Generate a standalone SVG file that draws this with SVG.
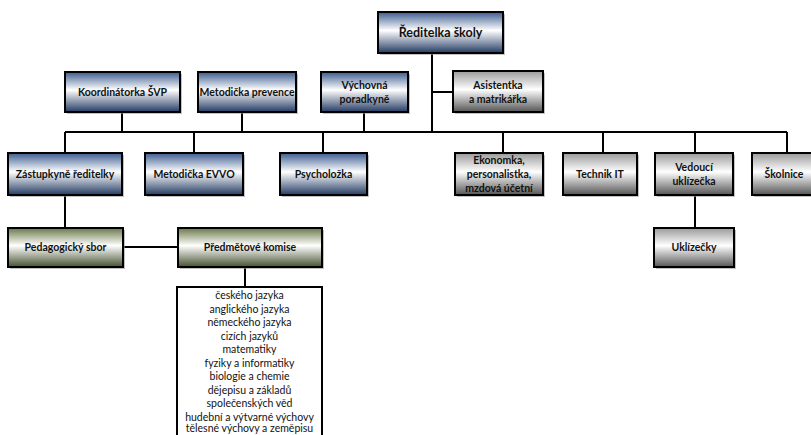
<svg xmlns="http://www.w3.org/2000/svg" width="811" height="435" viewBox="0 0 811 435">
<defs>
<linearGradient id="gBlue" x1="0" y1="0" x2="0" y2="1">
<stop offset="0" stop-color="#3d5c8f"/>
<stop offset="0.45" stop-color="#ffffff"/>
<stop offset="1" stop-color="#243b63"/>
</linearGradient>
<linearGradient id="gGray" x1="0" y1="0" x2="0" y2="1">
<stop offset="0" stop-color="#9a9a9a"/>
<stop offset="0.45" stop-color="#ffffff"/>
<stop offset="1" stop-color="#555555"/>
</linearGradient>
<linearGradient id="gGreen" x1="0" y1="0" x2="0" y2="1">
<stop offset="0" stop-color="#6a7848"/>
<stop offset="0.45" stop-color="#ffffff"/>
<stop offset="1" stop-color="#465230"/>
</linearGradient>
</defs>
<style>
.b{stroke:#000;stroke-width:2}
.blue{fill:url(#gBlue)}
.gray{fill:url(#gGray)}
.green{fill:url(#gGreen)}
.sh{fill:#9a9a9a;opacity:0.6}
text{font-family:Lato,"Open Sans","Liberation Sans",sans-serif;font-weight:bold;font-size:10.5px;fill:#111;text-anchor:middle}
.t{font-size:12.5px}
.li{font-weight:normal;font-size:10.5px}
.ln{stroke:#000;stroke-width:2;fill:none}
</style>
<g id="connectors">
<path class="ln" d="M432 53V132M432 92H453M65 132H787"/>
<path class="ln" d="M122 112V132M242 112V132M364 112V132"/>
<path class="ln" d="M65 132V153M194 132V153M323 132V153M503 132V153M603 132V153M695 132V153M787 132V153"/>
<path class="ln" d="M65 195V228M695 195V228M123 247H178M245 267V287"/>
</g>
<g id="n-reditelka"><rect class="sh" x="380" y="14" width="125" height="41"/><rect class="b blue" x="378" y="12" width="125" height="41"/><text class="t" x="440.5" y="37">Ředitelka školy</text></g>
<g id="n-koordinatorka"><rect class="sh" x="67" y="74" width="115" height="40"/><rect class="b blue" x="65" y="72" width="115" height="40"/><text x="122.5" y="96">Koordinátorka ŠVP</text></g>
<g id="n-metodicka-prevence"><rect class="sh" x="200" y="74" width="98" height="40"/><rect class="b blue" x="198" y="72" width="98" height="40"/><text x="247" y="96">Metodička prevence</text></g>
<g id="n-vychovna"><rect class="sh" x="323" y="74" width="87" height="40"/><rect class="b blue" x="321" y="72" width="87" height="40"/><text x="364.5" y="89">Výchovná</text><text x="364.5" y="103">poradkyně</text></g>
<g id="n-asistentka"><rect class="sh" x="455" y="73" width="90" height="41"/><rect class="b gray" x="453" y="71" width="90" height="41"/><text x="498" y="89">Asistentka</text><text x="498" y="103">a matrikářka</text></g>
<g id="n-zastupkyne"><rect class="sh" x="10" y="155" width="114" height="42"/><rect class="b blue" x="8" y="153" width="114" height="42"/><text x="65" y="178">Zástupkyně ředitelky</text></g>
<g id="n-evvo"><rect class="sh" x="147" y="155" width="98" height="42"/><rect class="b blue" x="145" y="153" width="98" height="42"/><text x="194" y="178">Metodička EVVO</text></g>
<g id="n-psycholozka"><rect class="sh" x="282" y="155" width="87" height="42"/><rect class="b blue" x="280" y="153" width="87" height="42"/><text x="323.5" y="178">Psycholožka</text></g>
<g id="n-ekonomka"><rect class="sh" x="457" y="155" width="88" height="42"/><rect class="b gray" x="455" y="153" width="88" height="42"/><text x="499" y="164">Ekonomka,</text><text x="499" y="178">personalistka,</text><text x="499" y="192">mzdová účetní</text></g>
<g id="n-technik"><rect class="sh" x="565" y="155" width="74" height="42"/><rect class="b gray" x="563" y="153" width="74" height="42"/><text x="600" y="178">Technik IT</text></g>
<g id="n-vedouci"><rect class="sh" x="657" y="155" width="78" height="42"/><rect class="b gray" x="655" y="153" width="78" height="42"/><text x="694" y="171">Vedoucí</text><text x="694" y="185">uklízečka</text></g>
<g id="n-skolnice"><rect class="sh" x="754" y="155" width="70" height="42"/><rect class="b gray" x="752" y="153" width="70" height="42"/><text x="784" y="178">Školnice</text></g>
<g id="n-pedagogicky"><rect class="sh" x="10" y="230" width="115" height="39"/><rect class="b green" x="8" y="228" width="115" height="39"/><text x="65.5" y="251">Pedagogický sbor</text></g>
<g id="n-predmetove"><rect class="sh" x="180" y="230" width="144" height="39"/><rect class="b green" x="178" y="228" width="144" height="39"/><text x="250" y="251">Předmětové komise</text></g>
<g id="n-uklizecky"><rect class="sh" x="656" y="230" width="80" height="39"/><rect class="b gray" x="654" y="228" width="80" height="39"/><text x="694" y="251">Uklízečky</text></g>
<g id="n-komise-list">
<rect x="177" y="287" width="145" height="160" fill="#fff" stroke="#000" stroke-width="2"/>
<text class="li" x="249.5" y="299">českého jazyka</text>
<text class="li" x="249.5" y="312.5">anglického jazyka</text>
<text class="li" x="249.5" y="326">německého jazyka</text>
<text class="li" x="249.5" y="339.5">cizích jazyků</text>
<text class="li" x="249.5" y="353">matematiky</text>
<text class="li" x="249.5" y="366.5">fyziky a informatiky</text>
<text class="li" x="249.5" y="380">biologie a chemie</text>
<text class="li" x="249.5" y="393.5">dějepisu a základů</text>
<text class="li" x="249.5" y="407">společenských věd</text>
<text class="li" x="249.5" y="420.5">hudební a výtvarné výchovy</text>
<text class="li" x="249.5" y="432">tělesné výchovy a zeměpisu</text>
</g>
</svg>
